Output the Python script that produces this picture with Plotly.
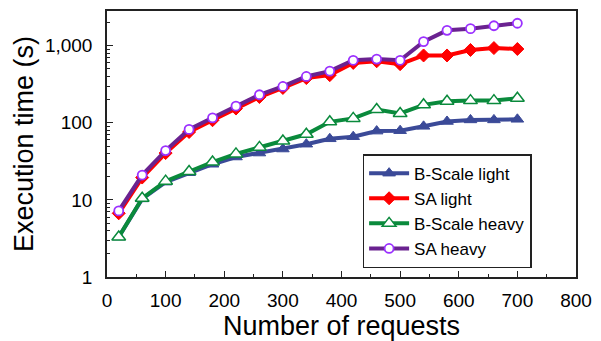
import plotly.graph_objects as go

# Number of requests
requests = [20, 60, 100, 140, 180, 220, 260, 300, 340, 380,
            420, 460, 500, 540, 580, 620, 660, 700]

# Execution time (s) per scheduler / workload
bscale_light = [3.3, 10.3, 17, 22.5, 29, 36, 40.5, 45.7, 52.8, 62,
                66, 78, 79, 90, 104, 109, 109, 111]
sa_light = [6.7, 19.5, 40.5, 76, 108, 153, 216, 283, 380, 415,
            598, 628, 576, 747, 747, 880, 932, 906]
bscale_heavy = [3.3, 10.5, 17.5, 23.3, 31, 39.5, 48, 58, 71, 103,
                114, 149, 132, 171, 190, 194, 194, 208]
sa_heavy = [7.2, 21, 43.6, 82, 116, 165, 231, 296, 399, 468,
            647, 671, 647, 1130, 1582, 1663, 1813, 1954]

y_tick_vals = [1, 10, 100, 1000]
y_tick_text = ["1", "10", "100", "1,000"]
x_tick_vals = [0, 100, 200, 300, 400, 500, 600, 700, 800]

FONT = "Liberation Sans, Arial, sans-serif"

fig = go.Figure()

fig.add_trace(go.Scatter(
    x=requests, y=bscale_light, name="B-Scale light", mode="lines+markers",
    line=dict(color="#3b4a98", width=4),
    marker=dict(symbol="triangle-up", size=11, color="#3b4a98",
                line=dict(color="#3b4a98", width=1)),
))
fig.add_trace(go.Scatter(
    x=requests, y=sa_light, name="SA light", mode="lines+markers",
    line=dict(color="#ff0000", width=4),
    marker=dict(symbol="diamond", size=10, color="#ff0000",
                line=dict(color="#ff0000", width=1)),
))
fig.add_trace(go.Scatter(
    x=requests, y=bscale_heavy, name="B-Scale heavy", mode="lines+markers",
    line=dict(color="#0a8a3c", width=4),
    marker=dict(symbol="triangle-up", size=12, color="white",
                line=dict(color="#0a8a3c", width=1.5)),
))
fig.add_trace(go.Scatter(
    x=requests, y=sa_heavy, name="SA heavy", mode="lines+markers",
    line=dict(color="#6a2290", width=4),
    marker=dict(symbol="circle", size=9, color="white",
                line=dict(color="#9b30ff", width=1.8)),
))

axis_common = dict(
    showline=True, linecolor="#222222", linewidth=1.5, mirror=True,
    showgrid=False, zeroline=False, ticks="inside", tickcolor="#222222",
    tickwidth=1.3, ticklen=6,
    tickfont=dict(family=FONT, size=19, color="black"),
)

fig.update_xaxes(
    **axis_common,
    range=[0, 800], tickvals=x_tick_vals, ticklabelstandoff=5,
    minor=dict(ticks="inside", dtick=50, ticklen=3, tickcolor="#222222",
               tickwidth=1.2),
    title=dict(text="Number of requests", standoff=3,
               font=dict(family=FONT, size=27, color="black")),
)
fig.update_yaxes(
    **axis_common,
    type="log", range=[0, 3.45],
    tickvals=y_tick_vals, ticktext=y_tick_text, ticklabelstandoff=9,
    minor=dict(ticks="inside", dtick="D1", ticklen=3, tickcolor="#222222",
               tickwidth=1.2),
    title=dict(text="Execution time (s)", standoff=3,
               font=dict(family=FONT, size=27, color="black")),
)

fig.update_layout(
    width=601, height=341,
    margin=dict(l=107, r=19, t=9, b=57),
    paper_bgcolor="white", plot_bgcolor="white",
    font=dict(family=FONT, color="black"),
    legend=dict(
        x=0.545, y=0.462, xanchor="left", yanchor="top",
        bgcolor="white", bordercolor="#222222", borderwidth=1.5,
        font=dict(family=FONT, size=17, color="black"),
        itemwidth=40, tracegroupgap=0,
    ),
    showlegend=True,
)

fig.write_html("out.html")
